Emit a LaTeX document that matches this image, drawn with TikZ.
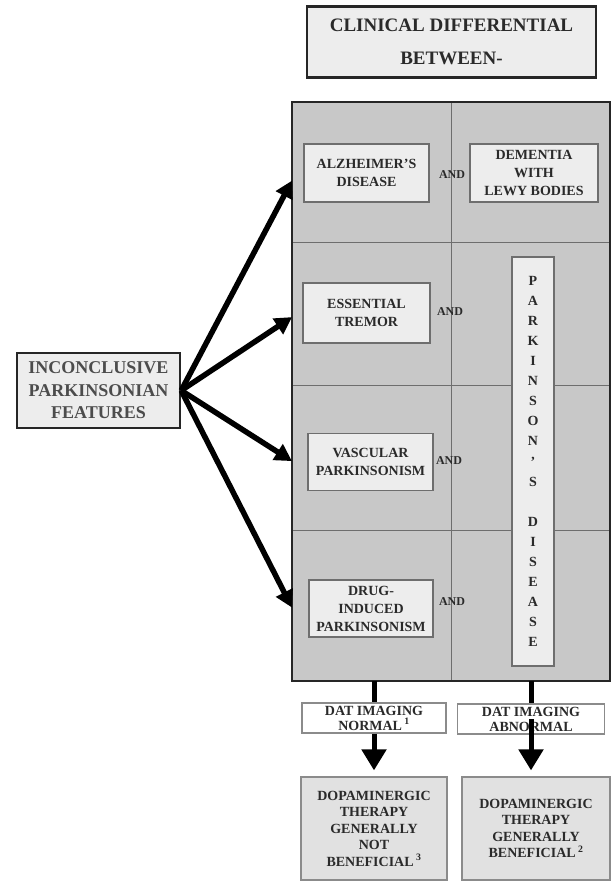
\documentclass[tikz,border=0pt]{standalone}
\usepackage{fontspec}
\setmainfont{Liberation Serif}
\usetikzlibrary{arrows.meta}
\definecolor{panel}{HTML}{C8C8C8}
\definecolor{boxfill}{HTML}{EDEDED}
\definecolor{inktext}{HTML}{2A2A2A}
\definecolor{rule}{HTML}{6E6E6E}
\begin{document}
\begin{tikzpicture}[x=1pt,y=-1pt,
  every node/.style={font=\bfseries, text=inktext, inner sep=0pt, align=center},
  heavybox/.style={rectangle, draw=black!85, line width=2.4pt, fill=boxfill},
  cell/.style={rectangle, draw=rule, line width=1.2pt, fill=panel, anchor=north west, minimum width=317},
  itembox/.style={rectangle, draw=rule, line width=1.3pt, fill=boxfill,
    font=\bfseries\fontsize{14}{18}\selectfont},
  andlbl/.style={font=\bfseries\fontsize{12}{14}\selectfont},
  datbox/.style={rectangle, draw=rule!80, line width=1.2pt, fill=white,
    font=\bfseries\fontsize{14}{15}\selectfont},
  resultbox/.style={rectangle, draw=rule!80, line width=1.2pt, fill=boxfill!95!black,
    font=\bfseries\fontsize{14}{16.5}\selectfont},
  fan/.style={line width=5.5pt, -{Triangle[length=17pt,width=18pt]}},
  stem/.style={line width=5pt},
  drop/.style={line width=5pt, -{Triangle[length=21pt,width=24pt]}},
]
\useasboundingbox (0,0) rectangle (611,882);

% heading
\node[heavybox, minimum width=289, minimum height=71,
      font=\bfseries\fontsize{19}{33}\selectfont] (title) at (451.5,42)
  {CLINICAL DIFFERENTIAL\\BETWEEN-};

% starting observation
\node[heavybox, minimum width=163, minimum height=75, text=black!70,
      font=\bfseries\fontsize{18}{22.5}\selectfont] (inc) at (98.5,390.5)
  {INCONCLUSIVE\\PARKINSONIAN\\FEATURES};

% grey panel: four rows and two columns
\node[cell, minimum height=140] (r1) at (292,102) {};
\node[cell, minimum height=143] (r2) at (292,242) {};
\node[cell, minimum height=145] (r3) at (292,385) {};
\node[cell, minimum height=150] (r4) at (292,530) {};
\draw[rule, line width=1.2pt] (r1.north) -- (r4.south);
\draw[black!85, line width=2.2pt] (r1.north west) rectangle (r4.south east);

% left column conditions
\node[itembox, minimum width=125, minimum height=58] (alz) at (366.5,173)
  {ALZHEIMER'S\\DISEASE};
\node[itembox, minimum width=127, minimum height=60] (et) at (366.5,313)
  {ESSENTIAL\\TREMOR};
\node[itembox, minimum width=125, minimum height=57] (vasc) at (370.5,462)
  {VASCULAR\\PARKINSONISM};
\node[itembox, minimum width=124, minimum height=57] (drug) at (371,608.5)
  {DRUG-\\INDUCED\\PARKINSONISM};

% right column
\node[itembox, minimum width=128, minimum height=58] (dlb) at (534,173)
  {DEMENTIA\\WITH\\LEWY BODIES};
\node[itembox, minimum width=42, minimum height=409,
      font=\bfseries\fontsize{14}{20.1}\selectfont] (pd) at (533,461.5)
  {P\\A\\R\\K\\I\\N\\S\\O\\N\\'\\S\\\mbox{}\\D\\I\\S\\E\\A\\S\\E};

% links between the columns
\node[andlbl] (and1) at (452,175) {AND};
\node[andlbl] (and2) at (450,312) {AND};
\node[andlbl] (and3) at (449,461) {AND};
\node[andlbl] (and4) at (452,602) {AND};

% fan of arrows into the rows
\draw[fan] (inc.east) -- ([yshift=-8pt]r1.west);
\draw[fan] (inc.east) -- ([yshift=-3pt]r2.west);
\draw[fan] (inc.east) -- ([yshift=-3pt]r3.west);
\draw[fan] (inc.east) -- ([yshift=-2pt]r4.west);

% imaging outcomes
\node[datbox, minimum width=144, minimum height=30] (datn) at (374,718)
  {DAT IMAGING\\NORMAL\,\textsuperscript{1}};
\node[datbox, minimum width=147, minimum height=30] (data) at (531,719)
  {DAT IMAGING\\ABNORMAL};

\node[resultbox, minimum width=146, minimum height=103] (resn) at (374,828.5)
  {DOPAMINERGIC\\THERAPY\\GENERALLY\\NOT\\BENEFICIAL\,\textsuperscript{3}};
\node[resultbox, minimum width=148, minimum height=103] (resa) at (536,828.5)
  {DOPAMINERGIC\\THERAPY\\GENERALLY\\BENEFICIAL\,\textsuperscript{2}};

\draw[stem] (datn.north |- r4.south) -- (datn.north);
\draw[drop, shorten >=6pt] (datn.south) -- (datn.south |- resn.north);
\draw[stem] (data.north |- r4.south) -- (data.north);
\draw[drop, shorten >=6pt] (data.center) -- (data.center |- resa.north);
\end{tikzpicture}
\end{document}
